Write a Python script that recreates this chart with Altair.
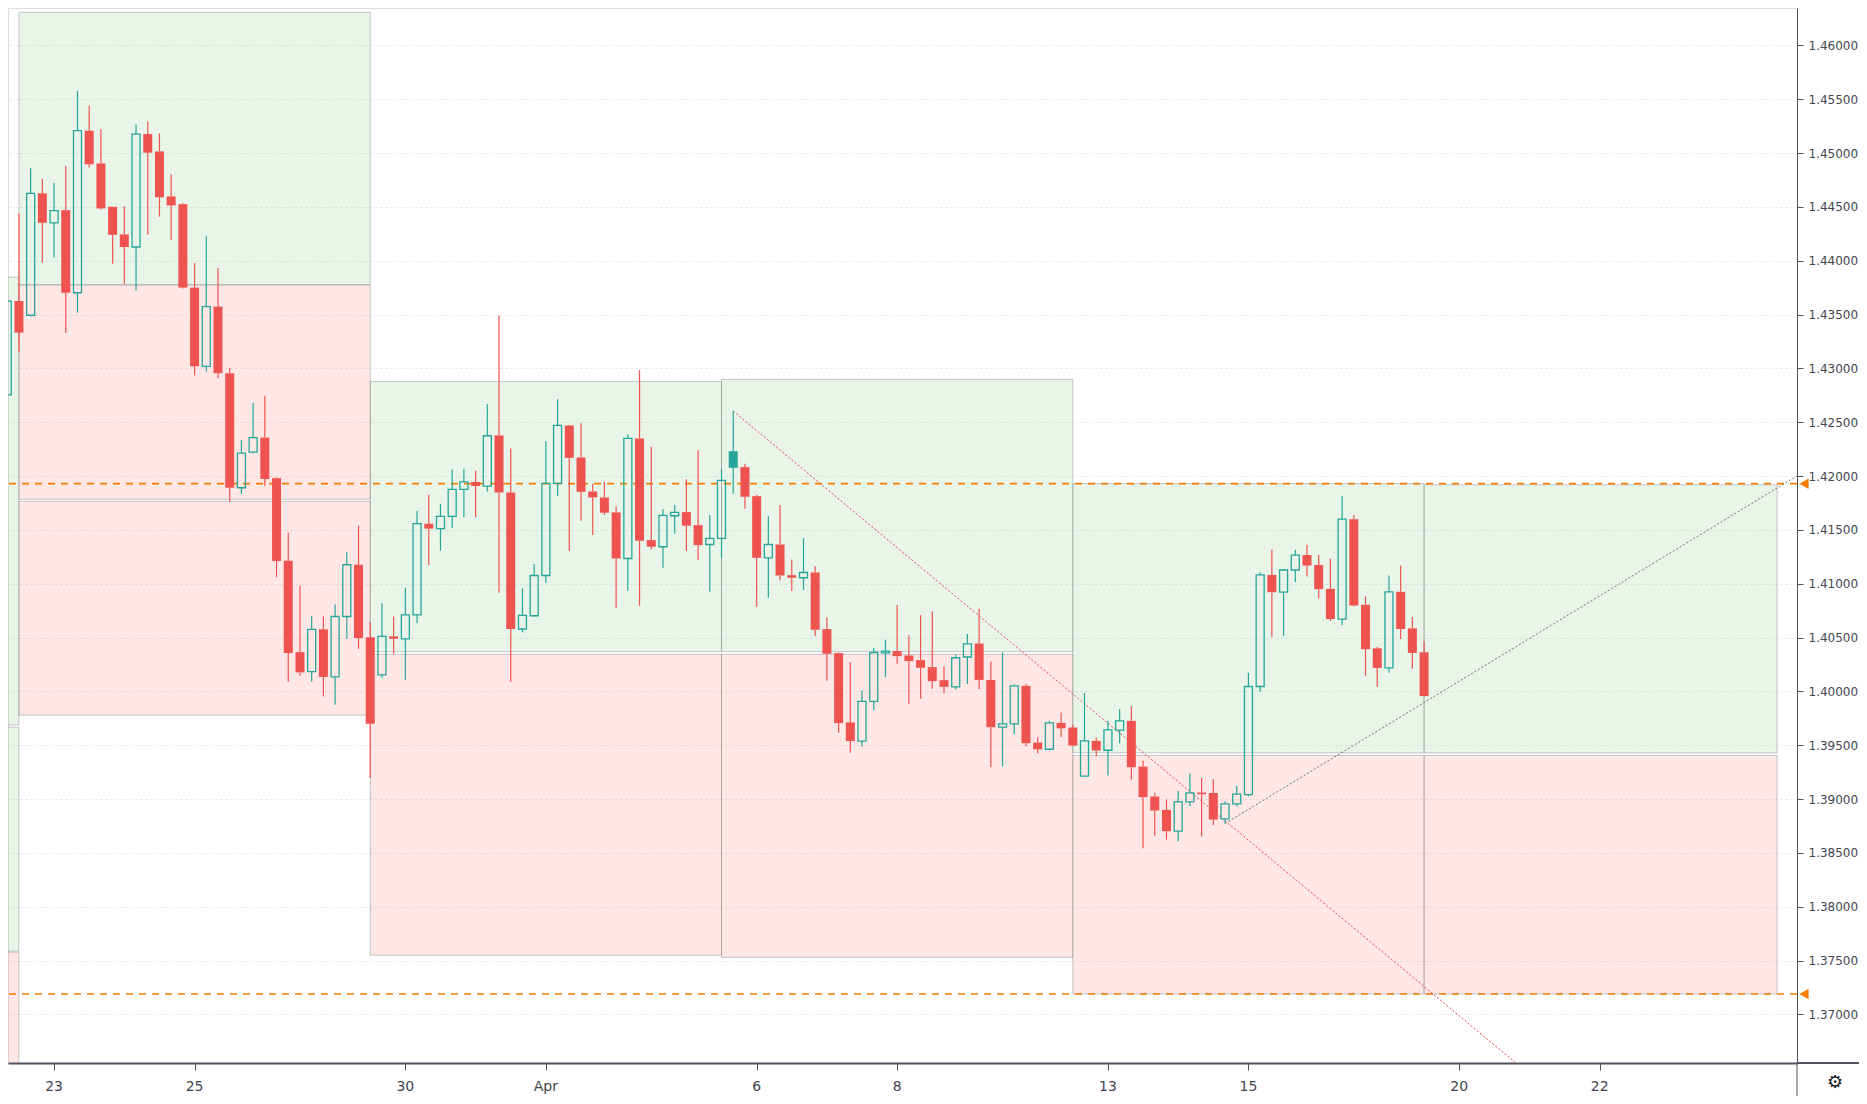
import altair as alt
import pandas as pd
import numpy as np

# ---------------- data (4-hour candles, bar index 0 = first bar of 23 Mar) ----------------
bar_index = list(range(-4, 118))

opens = [
    1.42755, 1.43626, 1.43494, 1.44627, 1.44353, 1.44470, 1.43703, 1.45209, 1.44904, 1.44502,
    1.44245, 1.44128, 1.45177, 1.45016, 1.44598, 1.44526, 1.43751, 1.43020, 1.43574, 1.42956,
    1.41892, 1.42223, 1.42358, 1.41981, 1.41215, 1.40365, 1.40185, 1.40577, 1.40135, 1.40696,
    1.41177, 1.40504, 1.40154, 1.40512, 1.40489, 1.40712, 1.41558, 1.41512, 1.41627, 1.41877,
    1.41946, 1.41908, 1.42378, 1.41848, 1.40580, 1.40703, 1.41077, 1.41932, 1.42471, 1.42173,
    1.41858, 1.41802, 1.41663, 1.41235, 1.42350, 1.41406, 1.41344, 1.41632, 1.41666, 1.41545,
    1.41365, 1.41421, 1.42232, 1.42084, 1.41814, 1.41241, 1.41365, 1.41080, 1.41056, 1.41105,
    1.40579, 1.40356, 1.39712, 1.39539, 1.39907, 1.40359, 1.40375, 1.40334, 1.40291, 1.40226,
    1.40105, 1.40043, 1.40320, 1.40445, 1.40107, 1.39668, 1.39699, 1.40052, 1.39525, 1.39463,
    1.39708, 1.39665, 1.39213, 1.39541, 1.39454, 1.39640, 1.39727, 1.39302, 1.39024, 1.38900,
    1.38702, 1.38974, 1.39061, 1.39057, 1.38816, 1.38955, 1.39041, 1.40046, 1.41082, 1.40922,
    1.41128, 1.41267, 1.41175, 1.40953, 1.40672, 1.41600, 1.40805, 1.40401, 1.40219, 1.40925,
    1.40586, 1.40364,
]
highs = [
    1.43992, 1.44442, 1.44859, 1.44763, 1.44723, 1.44883, 1.45578, 1.45442, 1.45221, 1.44502,
    1.44506, 1.45265, 1.45293, 1.45185, 1.44803, 1.44534, 1.43980, 1.44229, 1.43932, 1.43004,
    1.42337, 1.42681, 1.42746, 1.41988, 1.41473, 1.40985, 1.40704, 1.40696, 1.40808, 1.41292,
    1.41542, 1.40642, 1.40819, 1.40696, 1.40962, 1.41677, 1.41827, 1.41742, 1.42062, 1.42069,
    1.42050, 1.42669, 1.43495, 1.42257, 1.40957, 1.41183, 1.42325, 1.42715, 1.42475, 1.42492,
    1.41926, 1.41947, 1.41718, 1.42387, 1.42985, 1.42272, 1.41693, 1.41731, 1.41972, 1.42241,
    1.41638, 1.42065, 1.42604, 1.42115, 1.41824, 1.41628, 1.41731, 1.41226, 1.41424, 1.41164,
    1.40687, 1.40362, 1.40272, 1.40012, 1.40406, 1.40480, 1.40802, 1.40523, 1.40709, 1.40746,
    1.40232, 1.40344, 1.40535, 1.40767, 1.40278, 1.40361, 1.40064, 1.40070, 1.39580, 1.39727,
    1.39804, 1.39690, 1.39987, 1.39572, 1.39727, 1.39838, 1.39866, 1.39358, 1.39058, 1.38996,
    1.39076, 1.39237, 1.39197, 1.39186, 1.38980, 1.39124, 1.40173, 1.41107, 1.41317, 1.41138,
    1.41317, 1.41363, 1.41270, 1.41233, 1.41816, 1.41640, 1.40882, 1.40413, 1.41076, 1.41169,
    1.40691, 1.40466,
]
lows = [
    1.42365, 1.43157, 1.43482, 1.43984, 1.44032, 1.43329, 1.43518, 1.44867, 1.44474, 1.43972,
    1.43783, 1.43723, 1.44241, 1.44410, 1.44193, 1.43743, 1.42936, 1.42972, 1.42908, 1.41759,
    1.41835, 1.42212, 1.41908, 1.41062, 1.40089, 1.40146, 1.40089, 1.39954, 1.39877, 1.40489,
    1.40396, 1.39196, 1.40127, 1.40350, 1.40108, 1.40635, 1.41173, 1.41308, 1.41519, 1.41619,
    1.41619, 1.41858, 1.40916, 1.40090, 1.40550, 1.40694, 1.41009, 1.41817, 1.41306, 1.41585,
    1.41452, 1.41638, 1.40777, 1.40935, 1.40796, 1.41319, 1.41149, 1.41464, 1.41306, 1.41220,
    1.40926, 1.41241, 1.41836, 1.41697, 1.40786, 1.40870, 1.41034, 1.40932, 1.40941, 1.40514,
    1.40099, 1.39616, 1.39430, 1.39486, 1.39827, 1.40133, 1.40257, 1.39885, 1.39932, 1.40025,
    1.39978, 1.40019, 1.40070, 1.40020, 1.39296, 1.39305, 1.39603, 1.39491, 1.39426, 1.39463,
    1.39575, 1.39497, 1.39213, 1.39398, 1.39219, 1.39519, 1.39182, 1.38544, 1.38661, 1.38624,
    1.38609, 1.38934, 1.38652, 1.38758, 1.38773, 1.38933, 1.39026, 1.39997, 1.40506, 1.40515,
    1.41014, 1.41067, 1.40866, 1.40654, 1.40617, 1.40789, 1.40145, 1.40043, 1.40173, 1.40487,
    1.40210, 1.39957,
]
closes = [
    1.43626, 1.43333, 1.44627, 1.44353, 1.44466, 1.43703, 1.45209, 1.44896, 1.44486, 1.44241,
    1.44128, 1.45177, 1.45004, 1.44590, 1.44514, 1.43751, 1.43020, 1.43574, 1.42956, 1.41892,
    1.42213, 1.42358, 1.41973, 1.41212, 1.40358, 1.40177, 1.40577, 1.40135, 1.40696, 1.41177,
    1.40496, 1.39700, 1.40512, 1.40489, 1.40712, 1.41558, 1.41512, 1.41627, 1.41877, 1.41946,
    1.41908, 1.42375, 1.41848, 1.40580, 1.40706, 1.41077, 1.41932, 1.42471, 1.42170, 1.41854,
    1.41802, 1.41660, 1.41235, 1.42350, 1.41399, 1.41344, 1.41635, 1.41663, 1.41539, 1.41359,
    1.41421, 1.41960, 1.42077, 1.41808, 1.41241, 1.41365, 1.41077, 1.41056, 1.41105, 1.40573,
    1.40350, 1.39706, 1.39539, 1.39907, 1.40362, 1.40375, 1.40328, 1.40282, 1.40220, 1.40096,
    1.40043, 1.40313, 1.40442, 1.40107, 1.39668, 1.39699, 1.40052, 1.39519, 1.39463, 1.39708,
    1.39658, 1.39497, 1.39541, 1.39451, 1.39643, 1.39727, 1.39296, 1.39018, 1.38894, 1.38702,
    1.38974, 1.39058, 1.39045, 1.38810, 1.38955, 1.39047, 1.40046, 1.41082, 1.40922, 1.41128,
    1.41267, 1.41169, 1.40950, 1.40672, 1.41600, 1.40799, 1.40392, 1.40219, 1.40925, 1.40580,
    1.40358, 1.39957,
]

# weekly boxes: start bar, end bar, lower price, upper price, kind
box_x1 = [-40, -40, -40, -3, -3, -3, 27, 27, 57, 57, 87, 87, 117, 117]
box_x2 = [-3, -3, -3, 27, 27, 27, 57, 57, 87, 87, 117, 117, 147.15, 147.15]
box_lo = [1.39688, 1.37588, 1.35000, 1.43777, 1.41785, 1.39780, 1.40370, 1.37550,
          1.40370, 1.37530, 1.39430, 1.37190, 1.39430, 1.37190]
box_hi = [1.43848, 1.39668, 1.37578, 1.46308, 1.43777, 1.41765, 1.42880, 1.40345,
          1.42898, 1.40345, 1.41930, 1.39405, 1.41920, 1.39405]
box_kind = ["up", "up", "down", "up", "down", "down", "up", "down",
            "up", "down", "up", "down", "up", "down"]

level_prices = [1.41930, 1.37190]

# trend lines (bar, price)
down_trend_bars = [58, 125.5]
down_trend_prices = [1.42604, 1.36489]
up_trend_bars = [100, 149]
up_trend_prices = [1.38773, 1.42012]

tick_bars = [0, 12, 30, 42, 60, 72, 90, 102, 120, 132]
tick_labels = ["23", "25", "30", "Apr", "6", "8", "13", "15", "20", "22"]
price_ticks = [round(1.37 + 0.005 * k, 3) for k in range(19)]

# ---------------- frames ----------------
df = pd.DataFrame({"i": bar_index, "o": opens, "h": highs, "l": lows, "c": closes})
prev_close = df["c"].shift(1).fillna(df["o"])
df["dir"] = np.where(df["c"] >= prev_close, "up", "down")
df["top"] = df[["o", "c"]].max(axis=1)
df["bot"] = df[["o", "c"]].min(axis=1)
filled_df = df[df["c"] < df["o"]]
hollow_df = df[df["c"] >= df["o"]]

boxes = pd.DataFrame({"x1": box_x1, "x2": box_x2, "lo": box_lo, "hi": box_hi, "kind": box_kind})
levels = pd.DataFrame({"p": level_prices})
down_line = pd.DataFrame({"i": down_trend_bars, "p": down_trend_prices})
up_line = pd.DataFrame({"i": up_trend_bars, "p": up_trend_prices})
xticks = pd.DataFrame({"i": tick_bars, "label": tick_labels})

W, H = 1789, 1055
FONT = "DejaVu Sans"
AX = "#50535e"
TXT = "#434651"

xscale = alt.Scale(domain=[-3.507, 148.42], nice=False, zero=False)
yscale = alt.Scale(domain=[1.36549, 1.46348], nice=False, zero=False)

xaxis = alt.Axis(
    values=tick_bars, labels=False, title=None, grid=False,
    domainColor=AX, domainWidth=2, tickColor=AX, tickSize=7,
)
yaxis = alt.Axis(
    orient="right", values=price_ticks, format=".5f", title=None,
    grid=True, gridColor="#e3e6ec", gridDash=[2, 3], gridWidth=1,
    domainColor=AX, domainWidth=1, tickColor=AX, tickSize=6,
    labelColor=TXT, labelFontSize=12, labelFont=FONT, labelPadding=5,
)

def X(field):
    return alt.X(field, type="quantitative", scale=xscale, axis=xaxis)

def Y(field):
    return alt.Y(field, type="quantitative", scale=yscale, axis=yaxis)

dir_color = alt.Color("dir:N", scale=alt.Scale(domain=["up", "down"], range=["#26a69a", "#ef5350"]), legend=None)
dir_stroke = alt.Stroke("dir:N", scale=alt.Scale(domain=["up", "down"], range=["#26a69a", "#ef5350"]), legend=None)

box_layer = alt.Chart(boxes).mark_rect(
    clip=True, fillOpacity=0.13, stroke="#8a8a8a", strokeOpacity=0.45, strokeWidth=1
).encode(x=X("x1"), x2="x2", y=Y("lo"), y2="hi",
         fill=alt.Fill("kind:N", scale=alt.Scale(domain=["up", "down"], range=["#4caf50", "#f44336"]), legend=None))

level_layer = alt.Chart(levels).mark_rule(
    color="#f57c00", strokeDash=[7, 6], strokeWidth=1.6
).encode(y=Y("p"))

down_layer = alt.Chart(down_line).mark_line(
    clip=True, color="#e5484d", strokeDash=[2, 2], strokeWidth=1
).encode(x=X("i"), y=Y("p"))

up_layer = alt.Chart(up_line).mark_line(
    clip=True, color="#5f7f63", strokeDash=[2, 2], strokeWidth=1
).encode(x=X("i"), y=Y("p"))

wick_hi = alt.Chart(df).mark_rule(clip=True, strokeWidth=1.2).encode(
    x=X("i"), y=Y("h"), y2="top", color=dir_color)
wick_lo = alt.Chart(df).mark_rule(clip=True, strokeWidth=1.2).encode(
    x=X("i"), y=Y("bot"), y2="l", color=dir_color)

body_filled = alt.Chart(filled_df).mark_bar(clip=True, size=9, strokeWidth=0).encode(
    x=X("i"), y=Y("top"), y2="bot", color=dir_color)
body_hollow = alt.Chart(hollow_df).mark_bar(clip=True, size=8, filled=False, strokeWidth=1.3).encode(
    x=X("i"), y=Y("top"), y2="bot", stroke=dir_stroke)

tri_layer = alt.Chart(levels).mark_point(
    shape="triangle-left", filled=True, color="#f57c00", size=110, opacity=1
).encode(x=alt.value(W + 7), y=Y("p"))

xlabel_layer = alt.Chart(xticks).mark_text(
    font=FONT, fontSize=14, color=TXT, baseline="middle", align="center"
).encode(x=X("i"), y=alt.value(H + 24), text="label:N")

vline = alt.Chart(levels.head(1)).mark_rule(color=AX, strokeWidth=1).encode(
    x=alt.value(W), y=alt.value(H), y2=alt.value(H + 45))
hline = alt.Chart(levels.head(1)).mark_rule(color=AX, strokeWidth=2).encode(
    x=alt.value(W), x2=alt.value(W + 80), y=alt.value(H))
gear = alt.Chart(pd.DataFrame({"t": ["\u2699"]})).mark_text(
    fontSize=18, color="#131722", font=FONT, baseline="middle", align="center"
).encode(text="t:N", x=alt.value(W + 38), y=alt.value(H + 20))

chart = alt.layer(
    box_layer, level_layer, down_layer, up_layer,
    wick_hi, wick_lo, body_filled, body_hollow,
    tri_layer, xlabel_layer, vline, hline, gear,
).properties(
    width=W, height=H,
    autosize=alt.AutoSizeParams(type="none"),
    padding={"left": 0, "top": 0, "right": 62, "bottom": 33},
    background="white",
).configure_view(strokeWidth=0).configure(font=FONT)

chart.save("out.html", embed_options={"renderer": "svg", "actions": False})
